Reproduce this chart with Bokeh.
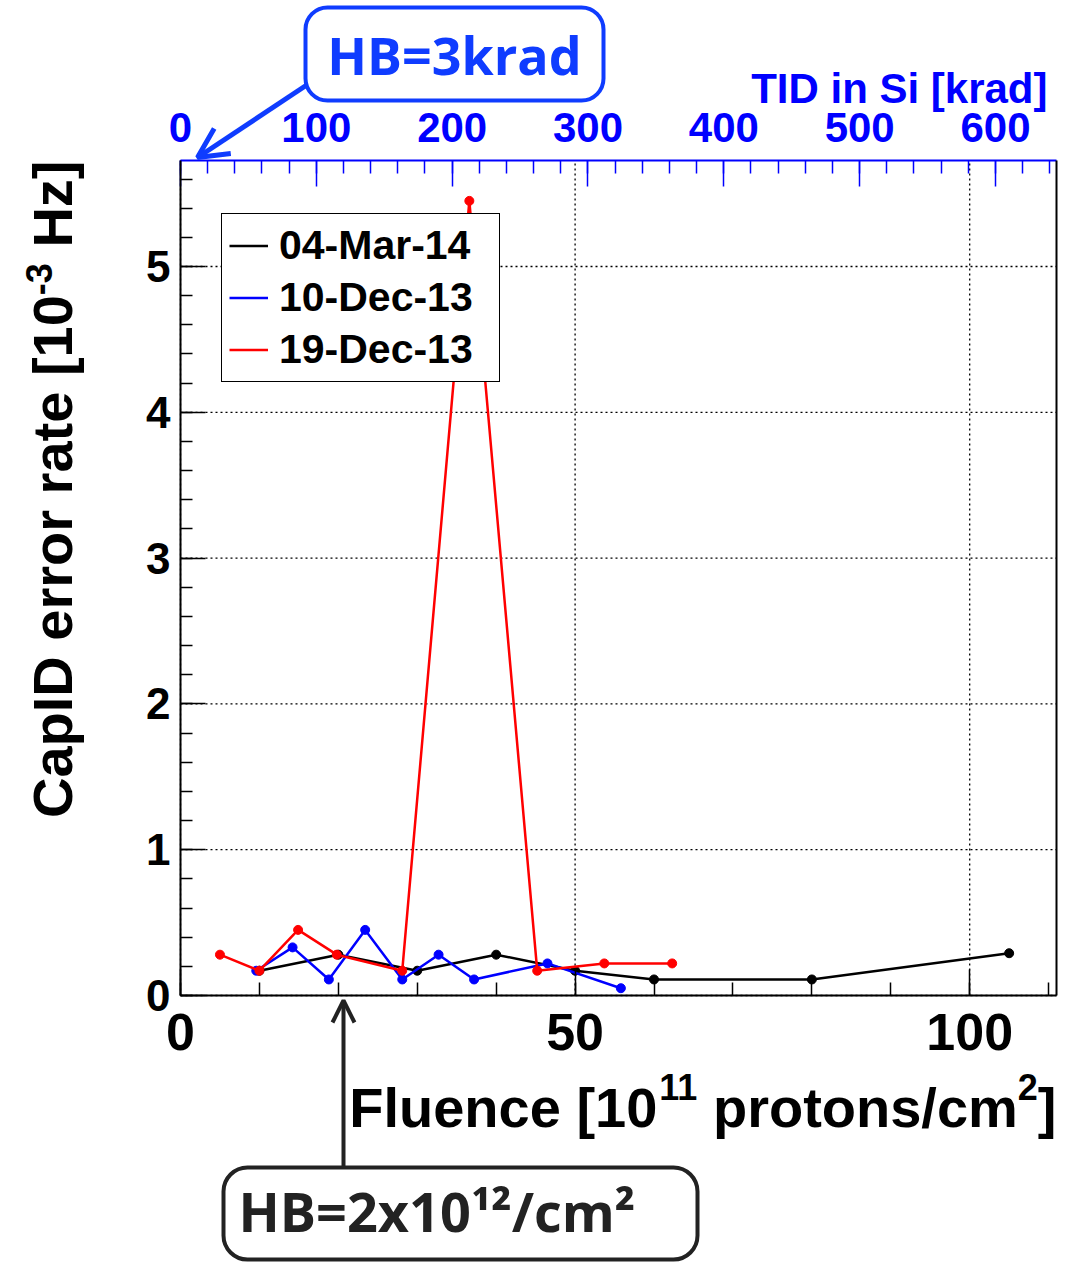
import math
from bokeh.plotting import figure
from bokeh.models import (Range1d, LinearAxis, FixedTicker, Legend, LegendItem,
                          Label, Arrow, OpenHead, BoxAnnotation)
from bokeh.embed import file_html
from bokeh.resources import INLINE

# ---------------- data ----------------
series_names = ["04-Mar-14", "10-Dec-13", "19-Dec-13"]
series_colors = ["black", "#0000ff", "#ff0000"]

mar14_fluence = [10, 20, 30, 40, 50, 60, 80, 105]
mar14_rate = [0.17, 0.28, 0.17, 0.28, 0.17, 0.11, 0.11, 0.29]

dec10_fluence = [9.6, 14.2, 18.8, 23.4, 28.1, 32.7, 37.2, 46.5, 55.8]
dec10_rate = [0.17, 0.33, 0.11, 0.45, 0.11, 0.28, 0.11, 0.22, 0.05]

dec19_fluence = [5.0, 10.0, 14.9, 19.8, 28.1, 36.6, 45.2, 53.7, 62.3]
dec19_rate = [0.28, 0.17, 0.45, 0.28, 0.17, 5.45, 0.17, 0.22, 0.22]

x_major_ticks = [0, 50, 100]
x_minor_ticks = list(range(0, 111, 10))
y_major_ticks = [0, 1, 2, 3, 4, 5]
y_minor_ticks = [round(i * 0.2, 1) for i in range(0, 29)]
tid_major_ticks = [0, 100, 200, 300, 400, 500, 600]
tid_minor_ticks = list(range(0, 641, 20))
krad_per_fluence = 5.81   # TID [krad] per 10^11 p/cm^2

X_MAX = 111.0
Y_MAX = 5.727

# ---------------- layout (canvas px) ----------------
W, H = 1074, 1262
PL, PR, PT, PB = 180, 1056, 160, 995   # plot-area edges
SX = (PR - PL) / X_MAX
SY = (PB - PT) / Y_MAX

def dx(px):
    return (px - PL) / SX

def dy(py):
    return (PB - py) / SY

FONT = "Liberation Sans"
BLUE = "#0000ff"
BOXBLUE = "#0f3cff"
DARK = "#222222"
K_BASE = 0.41   # empirical baseline correction (fraction of font size)

p = figure(width=W, height=H, x_range=Range1d(dx(0), dx(W)), y_range=Range1d(dy(H), dy(0)),
           output_backend="svg", toolbar_location=None,
           min_border_left=0, min_border_right=0, min_border_top=0, min_border_bottom=0)
p.extra_x_ranges = {"tid": Range1d(dx(0) * krad_per_fluence, dx(W) * krad_per_fluence)}
p.outline_line_color = None
p.background_fill_color = "white"
p.border_fill_color = "white"
p.xgrid.visible = False
p.ygrid.visible = False

# grid lines (dotted) at the major ticks, limited to the plot area
p.segment(x0=x_major_ticks, y0=[0] * len(x_major_ticks), x1=x_major_ticks,
          y1=[Y_MAX] * len(x_major_ticks), line_color="black", line_width=1.3,
          line_dash="2 3")
p.segment(x0=[0] * len(y_major_ticks), y0=y_major_ticks, x1=[X_MAX] * len(y_major_ticks),
          y1=y_major_ticks, line_color="black", line_width=1.3, line_dash="2 3")

def style_axis(ax, color, size, standoff):
    ax.major_tick_in = 26
    ax.major_tick_out = 0
    ax.minor_tick_in = 13
    ax.minor_tick_out = 0
    ax.axis_line_color = color
    ax.axis_line_width = 2
    ax.major_tick_line_color = color
    ax.minor_tick_line_color = color
    ax.major_tick_line_width = 1.5
    ax.minor_tick_line_width = 1.5
    ax.major_label_text_font = FONT
    ax.major_label_text_font_style = "bold"
    ax.major_label_text_font_size = f"{size}px"
    ax.major_label_text_color = color
    ax.major_label_standoff = standoff

# bottom axis
xa = p.xaxis[0]
xa.ticker = FixedTicker(ticks=x_major_ticks, minor_ticks=x_minor_ticks)
xa.fixed_location = 0
xa.bounds = (0, X_MAX)
style_axis(xa, "black", 52, 18)

# left axis
ya = p.yaxis[0]
ya.ticker = FixedTicker(ticks=y_major_ticks, minor_ticks=y_minor_ticks)
ya.fixed_location = 0
ya.bounds = (0, Y_MAX)
style_axis(ya, "black", 44, 10)
ya.major_tick_in = 25
ya.minor_tick_in = 12

# right frame edge
ra = LinearAxis(ticker=FixedTicker(ticks=[], minor_ticks=[]), fixed_location=X_MAX,
                bounds=(0, Y_MAX), axis_line_color="black", axis_line_width=2,
                major_label_text_font_size="0px")
p.add_layout(ra, "right")

# top axis (TID)
ta = LinearAxis(x_range_name="tid",
                ticker=FixedTicker(ticks=tid_major_ticks, minor_ticks=tid_minor_ticks),
                fixed_location=Y_MAX, bounds=(0, X_MAX * krad_per_fluence))
style_axis(ta, BLUE, 42, 19)
p.add_layout(ta, "above")

# series
xs = [mar14_fluence, dec10_fluence, dec19_fluence]
ys = [mar14_rate, dec10_rate, dec19_rate]
items = []
for name, col, xv, yv in zip(series_names, series_colors, xs, ys):
    lr = p.line(xv, yv, line_color=col, line_width=2.5)
    p.scatter(xv, yv, size=9, fill_color=col, line_color=col)
    items.append(LegendItem(label=name, renderers=[lr]))

legend = Legend(items=items, location=(221, H - 382))
legend.label_text_font = FONT
legend.label_text_font_style = "bold"
legend.label_text_font_size = "41px"
legend.label_text_color = "black"
legend.label_height = 49
legend.glyph_height = 49
legend.glyph_width = 39
legend.label_standoff = 11
legend.label_width = 213
legend.spacing = 3
legend.padding = 7
legend.margin = 0
legend.border_line_color = "black"
legend.border_line_alpha = 1
legend.border_line_width = 1.5
legend.background_fill_color = "white"
legend.background_fill_alpha = 1
p.add_layout(legend, "center")

def lab(text, ix, iy, size, color="black", align="left", angle=0.0, font=FONT,
        style="bold"):
    # ix, iy: wanted baseline anchor in canvas px
    if angle == 0.0:
        iy = iy - K_BASE * size
    else:
        ix = ix - K_BASE * size
    p.add_layout(Label(x=dx(ix), y=dy(iy), text=text, text_font=font,
                       text_font_style=style, text_font_size=f"{size}px",
                       text_color=color, text_align=align, text_baseline="alphabetic",
                       angle=angle))

# ---- y title (rotated, right-aligned to plot top) ----
F, S = 56, 36
y_end = 160
lab("Hz]", 75, y_end, F, align="right", angle=math.pi / 2)
lab("-3", 53, y_end + 1.833 * F, S, align="right", angle=math.pi / 2)
lab("CapID error rate [10", 75, y_end + 1.833 * F + 0.889 * S, F, align="right",
    angle=math.pi / 2)

# ---- x title (right-aligned to plot right) ----
xr = 1056
w1 = 0.333 * F
w2 = 0.556 * S
w3 = 5.723 * F
w4 = 1.112 * S
lab("]", xr, 1130, F, align="right")
lab("2", xr - w1, 1101, S, align="right")
lab("protons/cm", xr - w1 - w2, 1130, F, align="right")
lab("11", xr - w1 - w2 - w3, 1101, S, align="right")
lab("Fluence [10", xr - w1 - w2 - w3 - w4, 1130, F, align="right")

# ---- top axis title ----
lab("TID in Si [krad]", 1047, 105, 42, color=BLUE, align="right")

# ---- callout boxes ----
p.add_layout(Arrow(end=OpenHead(size=30, line_width=5, line_color=BOXBLUE),
                   x_start=dx(310), y_start=dy(82), x_end=dx(197), y_end=dy(157),
                   line_color=BOXBLUE, line_width=5))
p.add_layout(BoxAnnotation(left=dx(305), right=dx(603), top=dy(7), bottom=dy(100),
                           fill_color="white", fill_alpha=1, line_color=BOXBLUE,
                           line_alpha=1, line_width=4, border_radius=22))
lab("HB=3krad", 454, 75, 52, color=BOXBLUE, align="center", font="Open Sans",
    style="bold")

p.add_layout(Arrow(end=OpenHead(size=22, line_width=4, line_color=DARK),
                   x_start=dx(343), y_start=dy(1167), x_end=dx(343), y_end=dy(1000),
                   line_color=DARK, line_width=4))
p.add_layout(BoxAnnotation(left=dx(223), right=dx(697), top=dy(1167), bottom=dy(1259),
                           fill_color="white", fill_alpha=1, line_color=DARK,
                           line_alpha=1, line_width=4, border_radius=24))
lab("HB=2x10\u00b9\u00b2/cm\u00b2", 238, 1233, 54, color=DARK, align="left",
    font="Open Sans", style="bold")

open("out.html", "w").write(file_html(p, INLINE))
